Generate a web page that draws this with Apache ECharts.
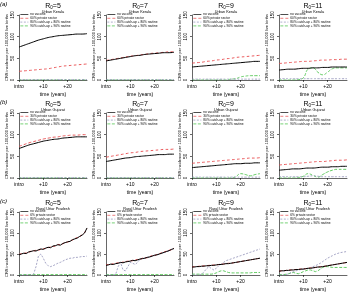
<!DOCTYPE html>
<html><head><meta charset="utf-8">
<script src="https://cdn.jsdelivr.net/npm/echarts@6/dist/echarts.min.js"></script>
<style>html,body{margin:0;padding:0;background:#fff}#c{width:350px;height:293px}</style>
</head><body><div id="c"></div>
<script>
// ---- data ----
const yearsCoarse = [0,2,4,6,8,10,12,14,16,18,20,22,24,26,28];
const yearsFine = [0,1,2,3,4,5,6,7,8,9,10,11,12,13,14,15,16,17,18,19,20,21,22,23,24,25,26,27,28];
const r0Values = [5, 7, 9, 11];
const regions = ['Urban Kerala', 'Urban Gujarat', 'Rural Uttar Pradesh'];
const panelLetters = ['(a)', '(b)', '(c)'];
const privateLabels = ['60% private sector', '30% private sector', '6% private sector'];
const catch80Label = '80% catch-up + 80% routine';
const catch90Label = '90% catch-up + 90% routine';
const xTicks = [0, 10, 20];
const xTickLabels = ['intro', '+10', '+20'];
const yTicks = [0, 50, 100, 150];

// Row a: Urban Kerala (coarse years)
const a5_none = [76,80,84,88,92,95,98,100,102,103,104,105,106,106,107];
const a5_priv = [20,21,22,23,24,25,26,28,30,32,33,34,35,36,37];
const a5_c80  = [1,1,1,1,1,1,1,1,1,1,1,1,1,1,1];
const a5_c90  = [0,0,0,0,0,0,0,0,0,0,0,0,0,0,0];
const a7_none = [44,46,48,50,52,54,56,57,59,60,61,62,63,63,64];
const a7_priv = [45,47,49,51,53,55,56,58,59,61,62,63,64,65,65];
const a7_c80  = [1,1,1,1,1,1,1,1,1,1,1,1,1,1,1];
const a7_c90  = [0,0,0,0,0,0,0,0,0,0,0,0,0,0,0];
const a9_none = [30,31,32,33,34,35,36,37,38,39,40,41,42,43,43];
const a9_priv = [39,40,41,43,44,46,47,49,50,52,53,54,55,56,57];
const a9_c80  = [2,2,2,2,2,2,2,2,2,2,2,2,2,2,2];
const a9_c90  = [0,0,0,0,0,0,0,0,2,3,7,9,10,10,10];
const a11_none = [23,24,25,25,26,27,27,28,28,29,29,30,30,30,30];
const a11_priv = [38,39,40,41,42,43,43,44,45,46,46,47,47,48,48];
const a11_c80  = [3,3,3,3,3,3,3,3,3,3,3,3,3,3,3];
const a11_c90  = [0,0,0,0,1,5,25,28,18,12,18,26,28,28,28];

// Row b: Urban Gujarat (coarse years)
const b5_none = [68,72,76,79,82,85,87,89,90,92,93,94,95,95,95];
const b5_priv = [73,77,81,84,87,90,92,94,95,97,98,99,99,100,100];
const b5_c80  = [1,1,1,1,1,1,1,1,1,1,1,1,1,1,1];
const b5_c90  = [0,0,0,0,0,0,0,0,0,0,0,0,0,0,0];
const b7_none = [38,40,42,44,46,47,49,50,51,52,53,54,54,55,55];
const b7_priv = [48,50,52,54,56,58,59,61,62,63,64,65,66,66,67];
const b7_c80  = [1,1,1,1,1,1,1,1,1,1,1,1,1,1,1];
const b7_c90  = [0,0,0,0,0,0,0,0,0,0,0,0,0,0,0];
const b9_none = [24,25,26,27,28,29,30,31,32,33,33,34,34,35,35];
const b9_priv = [34,35,36,37,38,39,40,41,42,43,44,45,46,46,47];
const b9_c80  = [2,2,2,2,2,2,2,2,2,2,2,2,2,2,2];
const b9_c90  = [0,0,0,0,0,0,0,0,0,3,10,8,5,8,10];
const b11_none = [18,19,20,21,21,22,23,23,24,25,25,26,26,27,27];
const b11_priv = [30,31,32,33,34,35,36,37,38,38,39,40,41,41,42];
const b11_c80  = [3,3,3,3,3,3,4,5,4,3,3,3,3,3,3];
const b11_c90  = [0,0,0,0,1,4,10,6,2,8,14,18,20,20,20];

// Row c: Rural Uttar Pradesh (fine years, stochastic)
const c5_none = [48,50,52,51,55,56,58,57,60,62,61,64,66,65,69,70,72,71,75,77,79,80,84,86,88,92,95,100,112];
const c5_priv = [49,51,51,53,54,57,57,59,59,61,63,63,65,67,68,69,73,72,74,78,78,82,83,87,89,91,96,101,110];
const c5_c80  = [0,0,0,0,0,0,2,20,45,50,40,28,22,20,22,25,28,30,33,36,38,40,40,42,42,43,44,44,45];
const c5_c90  = [1,1,1,1,1,1,1,1,1,1,1,1,1,1,1,1,1,1,1,1,1,1,1,1,1,1,1,1,1];
const c7_none = [23,24,26,25,27,28,30,29,31,32,33,35,34,36,38,39,40,42,43,45,47,48,50,52,54,56,58,61,63];
const c7_priv = [24,25,25,27,28,29,29,31,32,33,34,34,36,37,37,40,41,41,44,46,46,49,51,53,55,57,59,60,64];
const c7_c80  = [0,0,0,0,2,20,30,12,10,20,30,28,25,30,38,39,40,42,43,45,47,48,50,52,54,56,58,61,63];
const c7_c90  = [1,1,1,1,1,1,1,1,1,1,1,1,1,1,1,1,1,1,1,1,1,1,1,1,1,1,1,1,1];
const c9_none = [19,19,20,20,21,21,22,22,23,23,24,25,25,26,27,27,28,29,30,31,32,33,34,35,36,37,38,39,40];
const c9_priv = [19,20,20,21,21,22,22,23,23,24,24,25,26,26,27,28,28,29,30,31,32,33,34,35,36,37,38,39,40];
const c9_c80  = [0,0,0,0,2,8,15,20,15,12,16,22,26,30,34,36,38,40,42,44,46,48,50,52,54,56,58,60,62];
const c9_c90  = [2,2,2,2,2,2,2,2,2,3,5,8,10,10,8,6,5,5,5,5,5,5,5,5,5,6,6,6,6];
const c11_none = [9,10,10,11,11,12,12,13,13,14,14,15,16,16,17,18,19,19,20,21,22,23,24,25,26,27,28,29,30];
const c11_priv = [9,10,10,11,12,12,13,13,14,14,15,15,16,17,17,18,19,20,20,21,22,23,24,25,26,27,28,29,30];
const c11_c80  = [0,0,0,1,3,6,8,10,12,13,14,15,16,18,20,22,25,28,32,36,40,43,46,49,51,53,54,55,56];
const c11_c90  = [1,1,1,2,3,5,6,4,3,5,8,10,12,12,10,8,10,14,18,20,20,19,18,18,18,18,18,18,18];

const panelData = [
  [[a5_none,a5_priv,a5_c80,a5_c90],[a7_none,a7_priv,a7_c80,a7_c90],[a9_none,a9_priv,a9_c80,a9_c90],[a11_none,a11_priv,a11_c80,a11_c90]],
  [[b5_none,b5_priv,b5_c80,b5_c90],[b7_none,b7_priv,b7_c80,b7_c90],[b9_none,b9_priv,b9_c80,b9_c90],[b11_none,b11_priv,b11_c80,b11_c90]],
  [[c5_none,c5_priv,c5_c80,c5_c90],[c7_none,c7_priv,c7_c80,c7_c90],[c9_none,c9_priv,c9_c80,c9_c90],[c11_none,c11_priv,c11_c80,c11_c90]]
];
const rowYears = [yearsCoarse, yearsCoarse, yearsFine];

// ---- layout / style ----
const FONT = 'Liberation Sans';
const colLeft = [19, 106, 192, 279];
const gridW = 68;
const rowTop = [15, 113, 212];
const gridH = 65;
const seriesStyles = [
  {color:'#000000', type:'solid', width:1},
  {color:'#e8474a', type:[3,2], width:0.9},
  {color:'#8f8fb8', type:[2,1.5], width:0.8},
  {color:'#3cbf3c', type:[3,1.5], width:0.8}
];

const grid=[], xAxis=[], yAxis=[], series=[], title=[], legend=[];
for (let r=0;r<3;r++){
  const names=['no vaccine', privateLabels[r], catch80Label, catch90Label];
  for (let c=0;c<4;c++){
    const gi=grid.length;
    grid.push({left:colLeft[c], top:rowTop[r], width:gridW, height:gridH});
    xAxis.push({type:'value', gridIndex:gi, min:0, max:28, offset:2,
      axisLine:{show:true,lineStyle:{color:'#000',width:0.6}},
      axisTick:{show:true,length:2,customValues:xTicks,lineStyle:{color:'#000',width:0.6}},
      axisLabel:{customValues:xTicks,fontSize:5,fontFamily:FONT,color:'#000',margin:2,
        formatter:(v)=>{const i=xTicks.indexOf(v);return i>=0?xTickLabels[i]:'';}},
      splitLine:{show:false},
      name:'time (years)', nameLocation:'middle', nameGap:10,
      nameTextStyle:{fontSize:5,fontFamily:FONT,color:'#000'}});
    yAxis.push({type:'value', gridIndex:gi, min:0, max:150, offset:2,
      axisLine:{show:true,lineStyle:{color:'#000',width:0.6}},
      axisTick:{show:true,length:2,customValues:yTicks,lineStyle:{color:'#000',width:0.6}},
      axisLabel:{customValues:yTicks,fontSize:4.5,fontFamily:FONT,color:'#000',margin:1.5,rotate:90},
      splitLine:{show:false},
      name:'CRS incidence per 100,000 live births', nameLocation:'middle', nameGap:8,
      nameRotate:90, nameTextStyle:{fontSize:4,fontFamily:FONT,color:'#000'}});
    const d=panelData[r][c];
    for (let s=0;s<4;s++){
      const st=seriesStyles[s];
      series.push({type:'line', name:names[s], xAxisIndex:gi, yAxisIndex:gi,
        data:rowYears[r].map((t,i)=>[t,d[s][i]]), symbol:'none', smooth:r<2, z:10-s,
        lineStyle:{color:st.color,type:st.type,width:st.width}, itemStyle:{color:st.color}});
    }
    title.push({text:'R{s|0}='+r0Values[c], subtext:regions[r], left:colLeft[c]+gridW/2, top:rowTop[r]-13,
      textAlign:'center', itemGap:0, padding:0,
      textStyle:{fontSize:7,fontFamily:FONT,color:'#000',fontWeight:'normal',
        rich:{s:{fontSize:4.5,fontFamily:FONT,color:'#000',verticalAlign:'bottom',padding:[3,0,0,0]}}},
      subtextStyle:{fontSize:3.8,fontFamily:FONT,color:'#000'}});
    legend.push({data:names, orient:'vertical', left:colLeft[c]+1, top:rowTop[r]-2,
      itemWidth:8, itemHeight:3, itemGap:0.8, padding:0, selectedMode:false,
      itemStyle:{opacity:0}, lineStyle:{width:0.7},
      textStyle:{fontSize:3.2,fontFamily:FONT,color:'#000',padding:[0,0,0,-3]}});
  }
  title.push({text:panelLetters[r], left:0, top:rowTop[r]-14, padding:0,
    textStyle:{fontSize:6,fontFamily:FONT,color:'#000',fontWeight:'normal',fontStyle:'italic'}});
}

const chart=echarts.init(document.getElementById('c'),null,{renderer:'canvas'});
chart.setOption({animation:false, backgroundColor:'#fff', grid, xAxis, yAxis, series, title, legend});
</script></body></html>
